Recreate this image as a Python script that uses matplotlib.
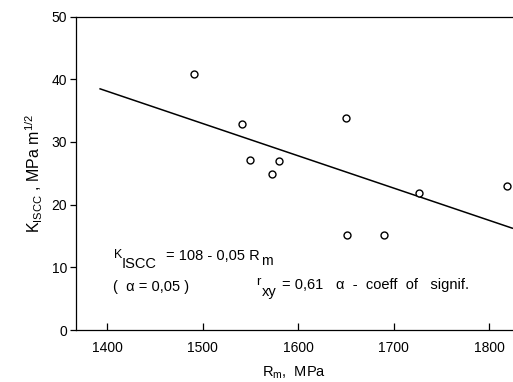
import matplotlib
matplotlib.use("Agg")
import matplotlib.pyplot as plt

# ---- data ----
rm_values = [1491, 1541, 1550, 1650, 1580, 1573, 1727, 1819, 1651, 1690]
kiscc_values = [40.9, 32.8, 27.1, 33.8, 26.9, 24.9, 21.9, 22.9, 15.1, 15.1]
fit_rm = [1392, 1825]
fit_k = [38.5, 16.2]
x_ticks = [1400, 1500, 1600, 1700, 1800]
y_ticks = [0, 10, 20, 30, 40, 50]

plt.rcParams['font.family'] = ['Liberation Sans', 'DejaVu Sans']
plt.rcParams['mathtext.fontset'] = 'custom'
plt.rcParams['mathtext.rm'] = 'Liberation Sans'
plt.rcParams['mathtext.it'] = 'Liberation Sans'

W, H = 513, 382
fig = plt.figure(figsize=(W / 100, H / 100), dpi=100)
fig.patch.set_facecolor('white')

left_px, right_px, top_px, bot_px = 75.5, 513, 16.5, 330
ax = fig.add_axes([left_px / W, 1 - bot_px / H, (right_px - left_px) / W, (bot_px - top_px) / H])
ax.set_xlim(1367, 1825)
ax.set_ylim(0, 50)

ax.plot(fit_rm, fit_k, color='black', lw=1.1, solid_capstyle='butt')
ax.plot(rm_values, kiscc_values, linestyle='none', marker='o', ms=5,
        mfc='white', mec='black', mew=1.0)

for s in ['left', 'bottom', 'top']:
    ax.spines[s].set_linewidth(0.9)
ax.spines['right'].set_visible(False)

ax.set_xticks(x_ticks)
ax.set_yticks(y_ticks)
ax.tick_params(axis='x', direction='in', length=5, width=0.9, labelsize=10, pad=8)
ax.tick_params(axis='y', direction='out', length=4, width=0.9, labelsize=10, pad=2)
ax.set_xlabel(r'R$_{\mathrm{m}}$,  MPa', fontsize=10.5, labelpad=7)
ax.set_ylabel(r'K$_{\mathrm{ISCC}}$ , MPa m$^{1/2}$', fontsize=11.5, labelpad=5)


def P(px, py):
    return px / W, 1 - py / H


def t(px, py, s, size=10.5):
    fig.text(*P(px, py), s, fontsize=size, ha='left', va='center')


t(114, 255, 'K', 9)
t(122, 264, 'ISCC', 10.5)
t(166, 256, '= 108 - 0,05 R', 10.5)
t(261, 261, 'm', 10)
t(113, 287, '(  α = 0,05 )', 10.5)
t(256, 282, 'r', 9.5)
t(262, 292, 'xy', 10.5)
t(282, 285, '= 0,61', 10.5)
t(336, 285, 'α  -  coeff  of   signif.', 10.5)

fig.savefig('out.png', dpi=100)
